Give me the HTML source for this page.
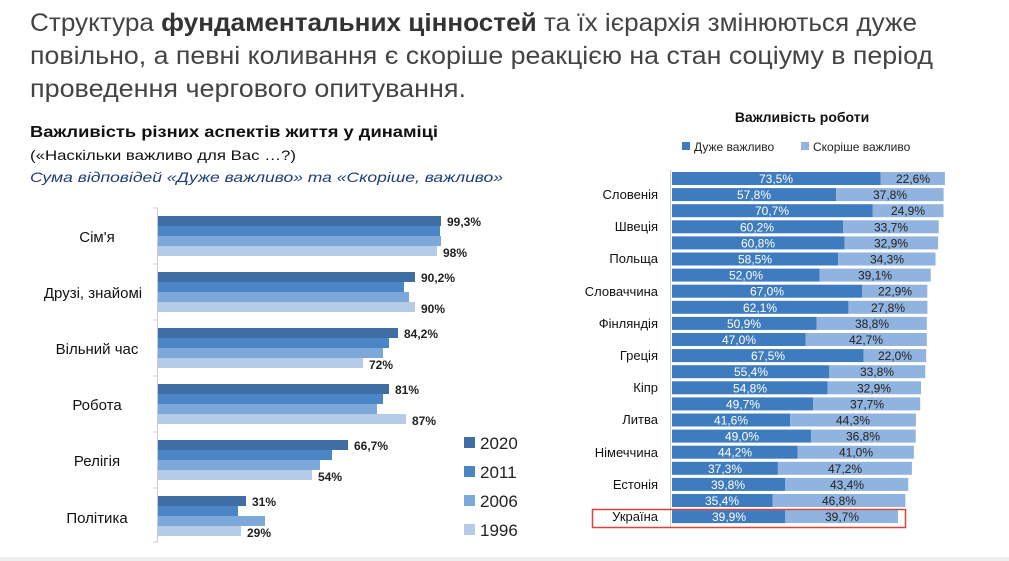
<!DOCTYPE html>
<html><head><meta charset="utf-8"><style>
html,body{margin:0;padding:0;background:#fff;}
svg{display:block;font-family:"Liberation Sans","DejaVu Sans",sans-serif;}
</style></head><body>
<svg width="1009" height="561" viewBox="0 0 1009 561" xmlns="http://www.w3.org/2000/svg">
<rect width="1009" height="561" fill="#fff"/>
<g fill="#444" font-size="25">
<text x="30" y="31" textLength="887" lengthAdjust="spacingAndGlyphs">Структура <tspan font-weight="bold" fill="#333">фундаментальних цінностей</tspan> та їх ієрархія змінюються дуже</text>
<text x="30" y="64" textLength="903" lengthAdjust="spacingAndGlyphs">повільно, а певні коливання є скоріше реакцією на стан соціуму в період</text>
<text x="30" y="97" textLength="436" lengthAdjust="spacingAndGlyphs">проведення чергового опитування.</text>
</g>
<text x="30" y="137" font-size="16" font-weight="bold" fill="#111" textLength="408" lengthAdjust="spacingAndGlyphs">Важливість різних аспектів життя у динаміці</text>
<text x="30" y="160" font-size="14" fill="#111" textLength="266" lengthAdjust="spacingAndGlyphs">(«Наскільки важливо для Вас …?)</text>
<text x="30" y="182" font-size="14" font-style="italic" fill="#1f3d7a" textLength="473" lengthAdjust="spacingAndGlyphs">Сума відповідей «Дуже важливо» та «Скоріше, важливо»</text>

<!-- left chart -->
<line x1="157.5" y1="208" x2="157.5" y2="542" stroke="#ccc"/>
<g stroke="#ccc"><line x1="153" y1="208" x2="158" y2="208"/><line x1="153" y1="264" x2="158" y2="264"/><line x1="153" y1="320" x2="158" y2="320"/><line x1="153" y1="376" x2="158" y2="376"/><line x1="153" y1="432" x2="158" y2="432"/><line x1="153" y1="488" x2="158" y2="488"/><line x1="153" y1="542" x2="158" y2="542"/></g>
<g font-size="15" fill="#111" text-anchor="middle">
<text x="97" y="242">Сім'я</text><text x="93" y="298">Друзі, знайомі</text><text x="97" y="354">Вільний час</text><text x="97" y="410">Робота</text><text x="97" y="466">Релігія</text><text x="97" y="523">Політика</text>
</g>
<g>
<rect x="158" y="216" width="283" height="10" fill="#3e6ea3"/><rect x="158" y="226" width="282" height="10" fill="#4a86c5"/><rect x="158" y="236" width="283" height="10" fill="#7da8da"/><rect x="158" y="246" width="279" height="10" fill="#b5cbe7"/>
<rect x="158" y="272" width="257" height="10" fill="#3e6ea3"/><rect x="158" y="282" width="246" height="10" fill="#4a86c5"/><rect x="158" y="292" width="251" height="10" fill="#7da8da"/><rect x="158" y="302" width="257" height="10" fill="#b5cbe7"/>
<rect x="158" y="328" width="240" height="10" fill="#3e6ea3"/><rect x="158" y="338" width="231" height="10" fill="#4a86c5"/><rect x="158" y="348" width="225" height="10" fill="#7da8da"/><rect x="158" y="358" width="205" height="10" fill="#b5cbe7"/>
<rect x="158" y="384" width="231" height="10" fill="#3e6ea3"/><rect x="158" y="394" width="225" height="10" fill="#4a86c5"/><rect x="158" y="404" width="219" height="10" fill="#7da8da"/><rect x="158" y="414" width="248" height="10" fill="#b5cbe7"/>
<rect x="158" y="440" width="190" height="10" fill="#3e6ea3"/><rect x="158" y="450" width="174" height="10" fill="#4a86c5"/><rect x="158" y="460" width="162" height="10" fill="#7da8da"/><rect x="158" y="470" width="154" height="10" fill="#b5cbe7"/>
<rect x="158" y="496" width="88" height="10" fill="#3e6ea3"/><rect x="158" y="506" width="80" height="10" fill="#4a86c5"/><rect x="158" y="516" width="107" height="10" fill="#7da8da"/><rect x="158" y="526" width="83" height="10" fill="#b5cbe7"/>
</g>
<g font-size="12" font-weight="bold" fill="#222">
<text x="447" y="226">99,3%</text><text x="443" y="257">98%</text>
<text x="421" y="282">90,2%</text><text x="421" y="313">90%</text>
<text x="404" y="338">84,2%</text><text x="369" y="369">72%</text>
<text x="395" y="394">81%</text><text x="412" y="425">87%</text>
<text x="354" y="450">66,7%</text><text x="318" y="481">54%</text>
<text x="252" y="506">31%</text><text x="247" y="537">29%</text>
</g>
<g font-size="17" fill="#222">
<rect x="464" y="437" width="11" height="11" fill="#3e6ea3"/><text x="480" y="449">2020</text>
<rect x="464" y="466" width="11" height="11" fill="#4a86c5"/><text x="480" y="478">2011</text>
<rect x="464" y="495" width="11" height="11" fill="#7da8da"/><text x="480" y="507">2006</text>
<rect x="464" y="524" width="11" height="11" fill="#b5cbe7"/><text x="480" y="536">1996</text>
</g>

<!-- right chart -->
<text x="802" y="122" font-size="14" font-weight="bold" fill="#111" text-anchor="middle">Важливість роботи</text>
<g font-size="12" fill="#222">
<rect x="682" y="142" width="8" height="8" fill="#3e7cbf"/><text x="694" y="151">Дуже важливо</text>
<rect x="801" y="142" width="8" height="8" fill="#90b3df"/><text x="813" y="151">Скоріше важливо</text>
</g>
<line x1="670.5" y1="170" x2="670.5" y2="528" stroke="#ccc"/>
<g font-size="13" fill="#111" text-anchor="end">
<text x="658" y="199">Словенія</text><text x="658" y="231">Швеція</text><text x="658" y="263">Польща</text><text x="658" y="296">Словаччина</text><text x="658" y="328">Фінляндія</text><text x="658" y="360">Греція</text><text x="658" y="392">Кіпр</text><text x="658" y="424">Литва</text><text x="658" y="457">Німеччина</text><text x="658" y="489">Естонія</text><text x="658" y="521">Україна</text>
</g>
<g font-size="12" text-anchor="middle">
<g transform="translate(672,172)"><rect width="208.7" height="13" fill="#3e7cbf"/><rect x="208.7" width="64.2" height="13" fill="#90b3df"/><text x="104" y="11" fill="#fff">73,5%</text><text x="241" y="11" fill="#222">22,6%</text></g>
<g transform="translate(672,188.1)"><rect width="164.2" height="13" fill="#3e7cbf"/><rect x="164.2" width="107.4" height="13" fill="#90b3df"/><text x="82" y="11" fill="#fff">57,8%</text><text x="218" y="11" fill="#222">37,8%</text></g>
<g transform="translate(672,204.2)"><rect width="200.8" height="13" fill="#3e7cbf"/><rect x="200.8" width="70.7" height="13" fill="#90b3df"/><text x="100" y="11" fill="#fff">70,7%</text><text x="236" y="11" fill="#222">24,9%</text></g>
<g transform="translate(672,220.3)"><rect width="171" height="13" fill="#3e7cbf"/><rect x="171" width="95.7" height="13" fill="#90b3df"/><text x="85" y="11" fill="#fff">60,2%</text><text x="219" y="11" fill="#222">33,7%</text></g>
<g transform="translate(672,236.4)"><rect width="172.7" height="13" fill="#3e7cbf"/><rect x="172.7" width="93.4" height="13" fill="#90b3df"/><text x="86" y="11" fill="#fff">60,8%</text><text x="219" y="11" fill="#222">32,9%</text></g>
<g transform="translate(672,252.5)"><rect width="166.1" height="13" fill="#3e7cbf"/><rect x="166.1" width="97.4" height="13" fill="#90b3df"/><text x="83" y="11" fill="#fff">58,5%</text><text x="215" y="11" fill="#222">34,3%</text></g>
<g transform="translate(672,268.6)"><rect width="147.7" height="13" fill="#3e7cbf"/><rect x="147.7" width="111" height="13" fill="#90b3df"/><text x="74" y="11" fill="#fff">52,0%</text><text x="203" y="11" fill="#222">39,1%</text></g>
<g transform="translate(672,284.7)"><rect width="190.3" height="13" fill="#3e7cbf"/><rect x="190.3" width="65" height="13" fill="#90b3df"/><text x="95" y="11" fill="#fff">67,0%</text><text x="223" y="11" fill="#222">22,9%</text></g>
<g transform="translate(672,300.8)"><rect width="176.4" height="13" fill="#3e7cbf"/><rect x="176.4" width="79" height="13" fill="#90b3df"/><text x="88" y="11" fill="#fff">62,1%</text><text x="216" y="11" fill="#222">27,8%</text></g>
<g transform="translate(672,316.9)"><rect width="144.6" height="13" fill="#3e7cbf"/><rect x="144.6" width="110.2" height="13" fill="#90b3df"/><text x="72" y="11" fill="#fff">50,9%</text><text x="200" y="11" fill="#222">38,8%</text></g>
<g transform="translate(672,333)"><rect width="133.5" height="13" fill="#3e7cbf"/><rect x="133.5" width="121.3" height="13" fill="#90b3df"/><text x="67" y="11" fill="#fff">47,0%</text><text x="194" y="11" fill="#222">42,7%</text></g>
<g transform="translate(672,349.1)"><rect width="191.7" height="13" fill="#3e7cbf"/><rect x="191.7" width="62.5" height="13" fill="#90b3df"/><text x="96" y="11" fill="#fff">67,5%</text><text x="223" y="11" fill="#222">22,0%</text></g>
<g transform="translate(672,365.2)"><rect width="157.3" height="13" fill="#3e7cbf"/><rect x="157.3" width="96" height="13" fill="#90b3df"/><text x="79" y="11" fill="#fff">55,4%</text><text x="205" y="11" fill="#222">33,8%</text></g>
<g transform="translate(672,381.3)"><rect width="155.6" height="13" fill="#3e7cbf"/><rect x="155.6" width="93.4" height="13" fill="#90b3df"/><text x="78" y="11" fill="#fff">54,8%</text><text x="202" y="11" fill="#222">32,9%</text></g>
<g transform="translate(672,397.4)"><rect width="141.1" height="13" fill="#3e7cbf"/><rect x="141.1" width="107.1" height="13" fill="#90b3df"/><text x="71" y="11" fill="#fff">49,7%</text><text x="195" y="11" fill="#222">37,7%</text></g>
<g transform="translate(672,413.5)"><rect width="118.1" height="13" fill="#3e7cbf"/><rect x="118.1" width="125.8" height="13" fill="#90b3df"/><text x="59" y="11" fill="#fff">41,6%</text><text x="181" y="11" fill="#222">44,3%</text></g>
<g transform="translate(672,429.6)"><rect width="139.2" height="13" fill="#3e7cbf"/><rect x="139.2" width="104.5" height="13" fill="#90b3df"/><text x="70" y="11" fill="#fff">49,0%</text><text x="191" y="11" fill="#222">36,8%</text></g>
<g transform="translate(672,445.7)"><rect width="125.5" height="13" fill="#3e7cbf"/><rect x="125.5" width="116.4" height="13" fill="#90b3df"/><text x="63" y="11" fill="#fff">44,2%</text><text x="184" y="11" fill="#222">41,0%</text></g>
<g transform="translate(672,461.8)"><rect width="105.9" height="13" fill="#3e7cbf"/><rect x="105.9" width="134" height="13" fill="#90b3df"/><text x="53" y="11" fill="#fff">37,3%</text><text x="173" y="11" fill="#222">47,2%</text></g>
<g transform="translate(672,477.9)"><rect width="113" height="13" fill="#3e7cbf"/><rect x="113" width="123.3" height="13" fill="#90b3df"/><text x="56" y="11" fill="#fff">39,8%</text><text x="175" y="11" fill="#222">43,4%</text></g>
<g transform="translate(672,494)"><rect width="100.5" height="13" fill="#3e7cbf"/><rect x="100.5" width="132.9" height="13" fill="#90b3df"/><text x="50" y="11" fill="#fff">35,4%</text><text x="167" y="11" fill="#222">46,8%</text></g>
<g transform="translate(672,510.1)"><rect width="113.3" height="13" fill="#3e7cbf"/><rect x="113.3" width="112.7" height="13" fill="#90b3df"/><text x="57" y="11" fill="#fff">39,9%</text><text x="170" y="11" fill="#222">39,7%</text></g>
</g>
<rect x="592.5" y="509.5" width="313" height="18" fill="none" stroke="#d9443f" stroke-width="1.5"/>
<rect x="0" y="557" width="1009" height="4" fill="#eeeeee"/>
</svg>
</body></html>
